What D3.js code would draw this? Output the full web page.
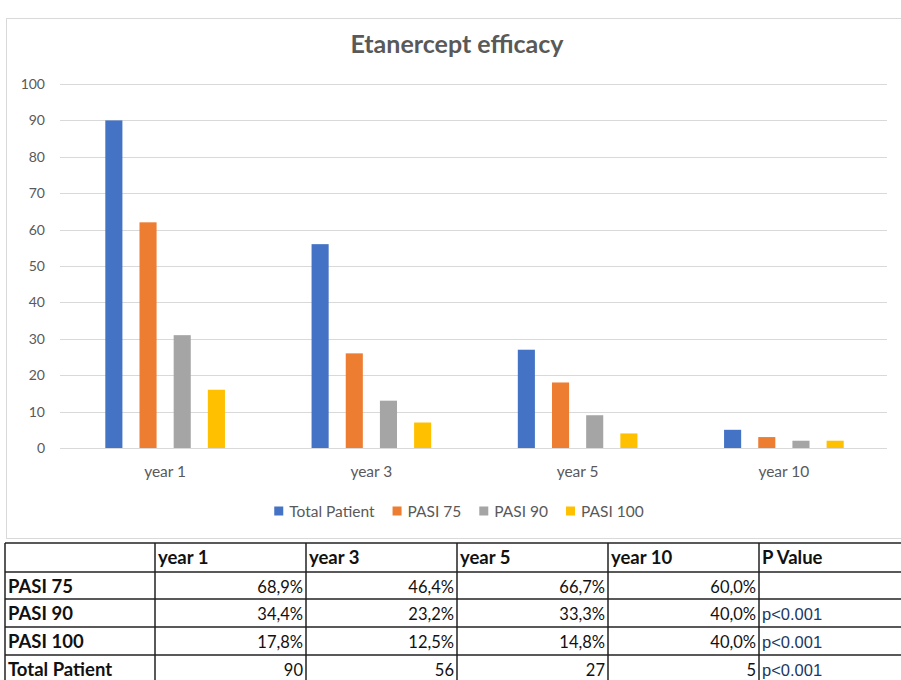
<!DOCTYPE html>
<html>
<head>
<meta charset="utf-8">
<script src="https://cdn.jsdelivr.net/npm/d3@7"></script>
<style>
  body { margin: 0; background: #fff; }
  svg { display: block; }
</style>
</head>
<body>
<div id="chart"></div>
<script>
// chart data
const categories = ['year 1', 'year 3', 'year 5', 'year 10'];
const seriesNames = ['Total Patient', 'PASI 75', 'PASI 90', 'PASI 100'];
const totalPatient = [90, 56, 27, 5];
const pasi75 = [62, 26, 18, 3];
const pasi90 = [31, 13, 9, 2];
const pasi100 = [16, 7, 4, 2];
const colors = ['#4472c4', '#ed7d31', '#a5a5a5', '#ffc000'];
const yTicks = [0, 10, 20, 30, 40, 50, 60, 70, 80, 90, 100];

// table data
const tableHeader = ['', 'year 1', 'year 3', 'year 5', 'year 10', 'P Value'];
const rowLabels = ['PASI 75', 'PASI 90', 'PASI 100', 'Total Patient'];
const rowValues = [
    ['68,9%', '46,4%', '66,7%', '60,0%'],
    ['34,4%', '23,2%', '33,3%', '40,0%'],
    ['17,8%', '12,5%', '14,8%', '40,0%'],
    ['90', '56', '27', '5']
];
const pValues = ['', 'p<0.001', 'p<0.001', 'p<0.001'];

const W = 901, H = 680;
const font = "Lato, 'Open Sans', sans-serif";

var svg = d3.select('#chart').append('svg')
    .attr('width', W)
    .attr('height', H);

// chart frame
svg.append('rect')
    .attr('x', 6.5).attr('y', 18.5)
    .attr('width', W).attr('height', 520)
    .attr('fill', '#fff')
    .attr('stroke', '#d9d9d9');

// title
svg.append('text')
    .attr('x', 457).attr('y', 53)
    .attr('text-anchor', 'middle')
    .style('font-family', font)
    .style('font-weight', 'bold')
    .style('font-size', '25px')
    .style('fill', '#595959')
    .text('Etanercept efficacy');

var plot = {left: 62, right: 887, top: 84, bottom: 448};

var y = d3.scaleLinear()
    .domain([0, 100])
    .range([plot.bottom, plot.top]);

var x0 = d3.scaleBand()
    .domain(categories)
    .range([plot.left, plot.right])
    .paddingInner(0.42)
    .paddingOuter(0.21);

var x1 = d3.scaleBand()
    .domain(seriesNames)
    .range([0, x0.bandwidth()])
    .paddingInner(0.5);

// gridlines
svg.append('g')
    .selectAll('line')
    .data(yTicks)
    .enter()
    .append('line')
    .attr('x1', 60).attr('x2', plot.right)
    .attr('y1', function(d) { return Math.round(y(d)) + 0.5; })
    .attr('y2', function(d) { return Math.round(y(d)) + 0.5; })
    .attr('stroke', '#d9d9d9')
    .attr('stroke-width', 1);

// y axis labels
var yAxis = svg.append('g')
    .attr('transform', 'translate(45,0)')
    .call(d3.axisLeft(y).tickValues(yTicks).tickSize(0).tickPadding(0));
yAxis.select('.domain').remove();
yAxis.selectAll('text')
    .style('font-family', font)
    .style('font-size', '14px')
    .style('fill', '#595959');

// x axis labels
var xAxis = svg.append('g')
    .attr('transform', 'translate(0,' + (plot.bottom + 18) + ')')
    .call(d3.axisBottom(x0).tickSize(0).tickPadding(0));
xAxis.select('.domain').remove();
xAxis.selectAll('text')
    .style('font-family', font)
    .style('font-size', '15.5px')
    .style('fill', '#595959');

// bars
const series = [totalPatient, pasi75, pasi90, pasi100];
var groups = svg.append('g')
    .selectAll('g')
    .data(categories)
    .enter()
    .append('g')
    .attr('transform', function(d) { return 'translate(' + x0(d) + ',0)'; });

groups.selectAll('rect')
    .data(function(d, i) {
        return seriesNames.map(function(name, s) { return {name: name, value: series[s][i], color: colors[s]}; });
    })
    .enter()
    .append('rect')
    .attr('x', function(d) { return x1(d.name); })
    .attr('y', function(d) { return y(d.value); })
    .attr('width', x1.bandwidth())
    .attr('height', function(d) { return y(0) - y(d.value); })
    .attr('fill', function(d) { return d.color; });

// legend
var legend = svg.append('g');
var lx = 0;
seriesNames.forEach(function(name, i) {
    var item = legend.append('g').attr('transform', 'translate(' + lx + ',0)');
    item.append('rect')
        .attr('x', 0).attr('y', -4.5)
        .attr('width', 9).attr('height', 9)
        .attr('fill', colors[i]);
    var t = item.append('text')
        .attr('x', 15).attr('y', 5.5)
        .style('font-family', font)
        .style('font-size', '15.5px')
        .style('fill', '#595959')
        .text(name);
    lx += 15 + t.node().getComputedTextLength() + 18;
});
var legendW = lx - 18;
legend.attr('transform', 'translate(' + (459 - legendW / 2) + ',511)');

// table
const colX = [5, 155, 306, 457, 608, 759, 905];
const rowY = [543, 572, 599, 627, 655, 683];
var table = svg.append('g');
var cellFont = "Lato, 'Open Sans', sans-serif";

// borders
colX.forEach(function(cx) {
    table.append('line')
        .attr('x1', cx).attr('x2', cx)
        .attr('y1', rowY[0]).attr('y2', rowY[rowY.length - 1])
        .attr('stroke', '#222').attr('stroke-width', 1.5);
});
rowY.forEach(function(ry) {
    table.append('line')
        .attr('x1', colX[0]).attr('x2', colX[colX.length - 1])
        .attr('y1', ry).attr('y2', ry)
        .attr('stroke', '#222').attr('stroke-width', 1.5);
});

// header
tableHeader.forEach(function(h, c) {
    table.append('text')
        .attr('x', colX[c] + 3)
        .attr('y', rowY[0] + 21)
        .style('font-family', cellFont)
        .style('font-weight', 'bold')
        .style('font-size', '18.5px')
        .style('fill', '#111')
        .text(h);
});

// body rows
rowLabels.forEach(function(label, r) {
    var by = rowY[r + 1] + 21;
    table.append('text')
        .attr('x', colX[0] + 3)
        .attr('y', by)
        .style('font-family', cellFont)
        .style('font-weight', 'bold')
        .style('font-size', '18.5px')
        .style('fill', '#111')
        .text(label);
    rowValues[r].forEach(function(v, c) {
        table.append('text')
            .attr('x', colX[c + 2] - 3)
            .attr('y', by)
            .attr('text-anchor', 'end')
            .style('font-family', cellFont)
            .style('font-size', '16.5px')
            .style('fill', '#111')
            .text(v);
    });
    table.append('text')
        .attr('x', colX[5] + 3)
        .attr('y', by)
        .style('font-family', "'Liberation Sans', Arial, sans-serif")
        .style('font-size', '16.5px')
        .style('fill', '#203864')
        .text(pValues[r]);
});
</script>
</body>
</html>
